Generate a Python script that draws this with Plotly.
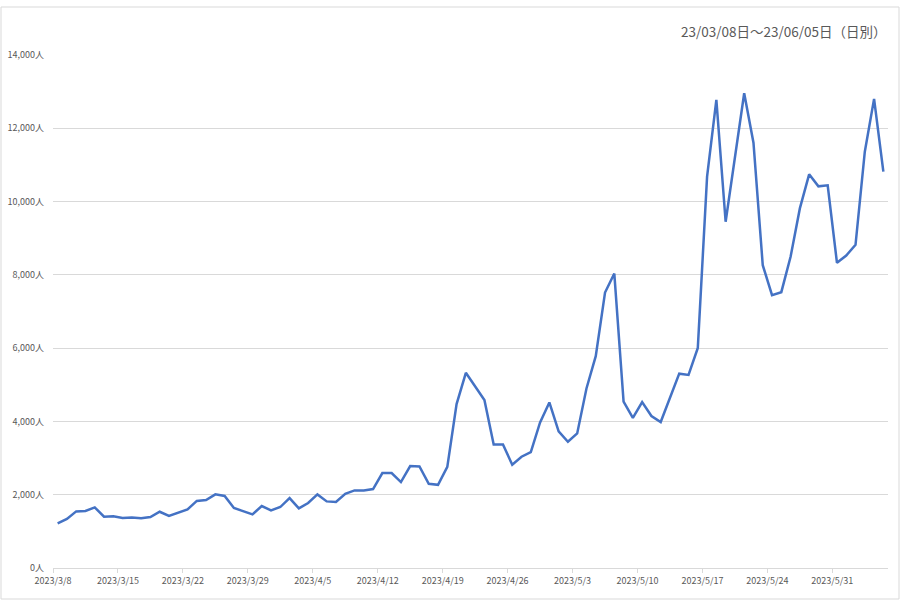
import plotly.graph_objects as go
import pandas as pd

start_date = "2023-03-08"
visitors = [
    1220, 1340, 1545, 1555, 1655, 1400, 1410, 1365, 1380, 1355,
    1390, 1535, 1420, 1510, 1600, 1830, 1855, 2010, 1965, 1636,
    1540, 1464, 1690, 1573, 1664, 1909, 1627, 1773, 2009, 1818,
    1800, 2027, 2118, 2118, 2155, 2590, 2590, 2345, 2782, 2773,
    2300, 2270, 2760, 4473, 5327, 4946, 4582, 3373, 3373, 2818,
    3036, 3164, 3973, 4518, 3727, 3445, 3673, 4900, 5782, 7518,
    8036, 4540, 4095, 4530, 4147, 3983, 4667, 5304, 5268, 6006,
    10679, 12774, 9449, 11271, 12957, 11608, 8265, 7445, 7527, 8493,
    9814, 10743, 10415, 10442, 8329, 8529, 8821, 11362, 12802, 10816,
]
tick_dates = ["2023-03-08", "2023-03-15", "2023-03-22", "2023-03-29", "2023-04-05",
              "2023-04-12", "2023-04-19", "2023-04-26", "2023-05-03", "2023-05-10",
              "2023-05-17", "2023-05-24", "2023-05-31"]
tick_labels = ["2023/3/8", "2023/3/15", "2023/3/22", "2023/3/29", "2023/4/5",
               "2023/4/12", "2023/4/19", "2023/4/26", "2023/5/3", "2023/5/10",
               "2023/5/17", "2023/5/24", "2023/5/31"]
y_ticks = [0, 2000, 4000, 6000, 8000, 10000, 12000, 14000]
title_text = "23/03/08日～23/06/05日（日別）"

dates = pd.date_range(start_date, periods=len(visitors), freq="D") + pd.Timedelta(hours=12)
x_end = pd.Timestamp(start_date) + pd.Timedelta(days=len(visitors))

FONT = "Noto Sans CJK JP"
GRAY = "#595959"
GRID = "#d9d9d9"

fig = go.Figure()
fig.add_trace(go.Scatter(
    x=dates, y=visitors, mode="lines",
    line=dict(color="#4472C4", width=2.5),
    hoverinfo="skip",
))

fig.update_layout(
    width=900, height=600,
    margin=dict(l=53, r=12, t=55, b=32, autoexpand=False),
    paper_bgcolor="white", plot_bgcolor="white",
    showlegend=False,
    font=dict(family=FONT, color=GRAY, size=9),
    xaxis=dict(
        type="date",
        range=[pd.Timestamp(start_date), x_end],
        tickmode="array", tickvals=tick_dates, ticktext=tick_labels,
        showgrid=False, showline=True, linecolor=GRID, linewidth=1,
        ticks="outside", ticklen=4, tickcolor=GRID,
        tickfont=dict(family=FONT, size=9, color=GRAY),
        zeroline=False, automargin=False,
    ),
    yaxis=dict(
        range=[0, 14000],
        tickmode="array", tickvals=y_ticks,
        ticktext=[f"{v:,}人" for v in y_ticks],
        showgrid=True, gridcolor=GRID, gridwidth=1,
        zeroline=False, showline=False, ticks="",
        tickfont=dict(family=FONT, size=9, color=GRAY),
        ticklabelstandoff=8, automargin=False,
    ),
    annotations=[dict(
        text=title_text, xref="paper", yref="paper",
        x=(889 - 53) / 835, y=(568 - 31) / 513,
        xanchor="right", yanchor="middle", showarrow=False,
        font=dict(family=FONT, size=13.5, color=GRAY),
    )],
    shapes=[dict(
        type="rect", xref="paper", yref="paper",
        x0=(1 - 53) / 835, x1=(899 - 53) / 835,
        y0=(568 - 599) / 513, y1=(568 - 7) / 513,
        line=dict(color=GRID, width=1), fillcolor="rgba(0,0,0,0)",
        layer="below",
    )],
)

fig.write_html("out.html", config={"displayModeBar": False},
               post_script="document.body.style.margin='0px';")
